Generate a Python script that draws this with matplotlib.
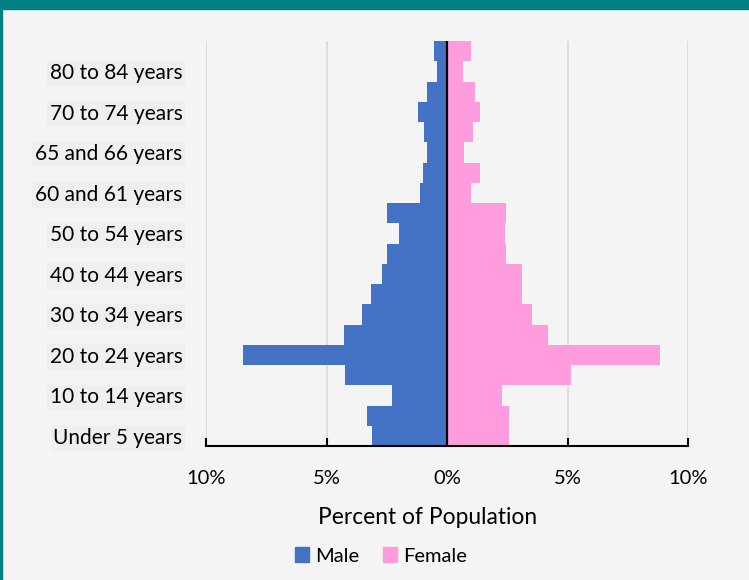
import matplotlib
matplotlib.use("Agg")
import matplotlib.pyplot as plt
from matplotlib.patches import Patch, Rectangle

plt.rcParams['font.family'] = ['Lato', 'DejaVu Sans']

# age groups, bottom to top
age_groups = [
    'Under 5 years', '5 to 9 years', '10 to 14 years', '15 to 19 years',
    '20 to 24 years', '25 to 29 years', '30 to 34 years', '35 to 39 years',
    '40 to 44 years', '45 to 49 years', '50 to 54 years', '55 to 59 years',
    '60 and 61 years', '62 to 64 years', '65 and 66 years', '67 to 69 years',
    '70 to 74 years', '75 to 79 years', '80 to 84 years', '85 years and over',
]
# percent of population
male = [3.13, 3.34, 2.27, 4.25, 8.47, 4.27, 3.52, 3.17, 2.69, 2.47,
        2.00, 2.47, 1.14, 1.00, 0.83, 0.94, 1.22, 0.83, 0.43, 0.53]
female = [2.58, 2.59, 2.30, 5.14, 8.83, 4.20, 3.52, 3.12, 3.12, 2.43,
          2.40, 2.45, 1.01, 1.36, 0.69, 1.08, 1.37, 1.16, 0.68, 1.00]
x_ticks = [-10, -5, 0, 5, 10]
x_labels = ['10%', '5%', '0%', '5%', '10%']

bg = '#f4f4f4'
fig = plt.figure(figsize=(7.49, 5.8), dpi=100)
fig.set_facecolor(bg)
ax = fig.add_axes([206 / 749, 1 - 446 / 580, 482 / 749, 405 / 580])
ax.set_facecolor(bg)

# teal frame
fig.patches.append(Rectangle((0, 1 - 9 / 580), 1, 9 / 580, transform=fig.transFigure,
                             color='#008080', zorder=0))
fig.patches.append(Rectangle((0, 0), 2 / 749, 1, transform=fig.transFigure,
                             color='#008080', zorder=0))

pos = list(range(len(age_groups)))
ax.barh(pos, [-v for v in male], height=1.0, color='#4472C4', zorder=2)
ax.barh(pos, female, height=1.0, color='#FF9CDE', zorder=2)
ax.axvline(0, color='black', linewidth=1.6, zorder=3)

ax.set_xlim(-10, 10)
ax.set_ylim(-0.5, len(age_groups) - 0.5)

ax.set_xticks(x_ticks)
ax.set_xticklabels(x_labels, fontsize=14.5)
ax.tick_params(axis='x', direction='in', length=6, width=1.5, pad=17, color='black')
ax.xaxis.grid(True, color='#d9d9d9', linewidth=1.2, zorder=0)
ax.set_axisbelow(True)

ax.set_yticks(pos[::2])
ax.set_yticklabels(age_groups[::2], fontsize=15)
ax.tick_params(axis='y', length=0, pad=17)
for lab in ax.get_yticklabels():
    lab.set_bbox(dict(facecolor='#efefef', edgecolor='none', pad=2))

for side in ['top', 'right', 'left']:
    ax.spines[side].set_visible(False)
ax.spines['bottom'].set_linewidth(1.5)
ax.spines['bottom'].set_color('black')

fig.text(428 / 749, 1 - 517 / 580, 'Percent of Population', fontsize=16.4,
         ha='center', va='center')

handles = [Patch(color='#4472C4', label='Male'), Patch(color='#FF9CDE', label='Female')]
fig.legend(handles=handles, loc='center', bbox_to_anchor=(381 / 749, 1 - 556 / 580),
           ncol=2, frameon=False, fontsize=14.5, handlelength=0.7, handleheight=0.7,
           handletextpad=0.3, columnspacing=1.2)

fig.savefig('out.png', dpi=100, facecolor=bg)
